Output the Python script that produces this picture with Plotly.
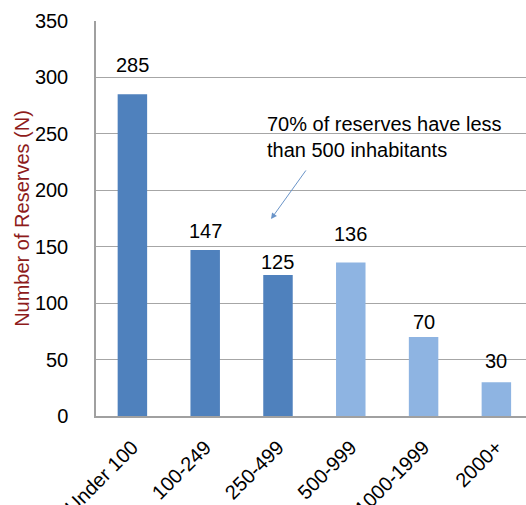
import plotly.graph_objects as go

categories = ["Under 100", "100-249", "250-499", "500-999", "1000-1999", "2000+"]
values = [285, 147, 125, 136, 70, 30]
bar_colors = ["#4F81BD", "#4F81BD", "#4F81BD", "#8EB4E2", "#8EB4E2", "#8EB4E2"]
label_shifts = [29, 19, 13, 29, 15, 21]  # px above bar top (label centre)
y_ticks = [0, 50, 100, 150, 200, 250, 300, 350]
note_text = "70% of reserves have less<br>than 500 inhabitants"

FONT = "Liberation Sans, Arial, sans-serif"

fig = go.Figure()
fig.add_trace(go.Bar(
    x=list(range(len(categories))), y=values,
    marker=dict(color=bar_colors, line=dict(width=0)),
    width=0.405,
))

annotations = []
for i, (v, s) in enumerate(zip(values, label_shifts)):
    annotations.append(dict(
        x=i, y=v, xref="x", yref="y", text=str(v), showarrow=False,
        yshift=s, yanchor="middle", xanchor="center",
        font=dict(family=FONT, size=20, color="#000000"),
    ))

annotations.append(dict(
    x=1.82, y=270, xref="x", yref="y", text=note_text, showarrow=False,
    xanchor="left", yanchor="top", align="left",
    font=dict(family=FONT, size=20, color="#000000"),
))
annotations.append(dict(
    x=1.904, y=174.5, xref="x", yref="y", ax=2.398, ay=218.9,
    axref="x", ayref="y", text="", showarrow=True,
    arrowhead=2, arrowsize=1.2, arrowwidth=1, arrowcolor="#6A94C8",
))

fig.update_layout(
    width=526, height=505,
    margin=dict(l=96, r=0, t=21, b=89),
    paper_bgcolor="white", plot_bgcolor="white",
    showlegend=False,
    annotations=annotations,
    xaxis=dict(
        range=[-0.5, 5.407], automargin=False,
        tickmode="array", tickvals=list(range(len(categories))), ticktext=categories,
        tickangle=-45, showgrid=False, showline=True, linecolor="#A0A0A0", linewidth=1.5,
        ticks="", tickfont=dict(family=FONT, size=20, color="#000000"),
        ticklabelstandoff=10,
    ),
    yaxis=dict(
        range=[0, 350], tickmode="array", tickvals=y_ticks, automargin=False,
        showgrid=True, gridcolor="#A6A6A6", gridwidth=1,
        showline=True, linecolor="#A0A0A0", linewidth=1.5, zeroline=False,
        ticks="", tickfont=dict(family=FONT, size=20, color="#000000"),
        ticklabelstandoff=22,
        title=dict(text="Number of Reserves (N)", standoff=0,
                   font=dict(family=FONT, size=20, color="#8E1B1B")),
    ),
)

fig.write_html("out.html")
